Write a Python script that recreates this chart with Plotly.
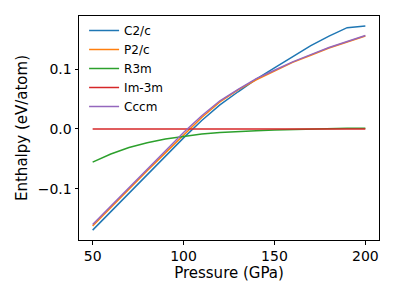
import plotly.graph_objects as go

pressure = [50, 60, 70, 80, 90, 100, 110, 120, 130, 140, 150, 160, 170, 180, 190, 200]
c2c = [-0.169, -0.138, -0.107, -0.076, -0.046, -0.015, 0.014, 0.040, 0.062, 0.083, 0.102, 0.121, 0.139, 0.155, 0.169, 0.172]
p2c = [-0.162, -0.131, -0.100, -0.070, -0.040, -0.010, 0.019, 0.045, 0.065, 0.082, 0.097, 0.111, 0.123, 0.135, 0.145, 0.155]
r3m = [-0.0555, -0.042, -0.031, -0.023, -0.017, -0.0125, -0.0085, -0.006, -0.004, -0.003, -0.002, -0.001, 0.0, 0.0005, 0.001, 0.001]
im3m = [0.0] * 16
cccm = [-0.1595, -0.129, -0.098, -0.068, -0.037, -0.006, 0.022, 0.047, 0.066, 0.084, 0.098, 0.112, 0.124, 0.136, 0.146, 0.156]

series = [
    ("C2/c", c2c, "#1f77b4"),
    ("P2/c", p2c, "#ff7f0e"),
    ("R3m", r3m, "#2ca02c"),
    ("Im-3m", im3m, "#d62728"),
    ("Cccm", cccm, "#9467bd"),
]

fig = go.Figure()
for name, vals, color in series:
    fig.add_trace(go.Scatter(x=pressure, y=vals, mode="lines", name=name,
                             line=dict(color=color, width=1.5)))

font = "DejaVu Sans"
# page body has an 8px default margin, so margins are offset by 8px
fig.update_layout(
    width=396, height=297,
    margin=dict(l=71, r=25, t=8, b=65),
    paper_bgcolor="white", plot_bgcolor="white",
    font=dict(family=font, color="black", size=14),
    showlegend=True,
    legend=dict(x=0.017, y=1.0, xanchor="left", yanchor="top",
                font=dict(size=12, family=font), bgcolor="rgba(0,0,0,0)",
                tracegroupgap=0, itemwidth=30),
)
fig.update_xaxes(range=[42.5, 207.5], tickvals=[50, 100, 150, 200], automargin=False,
                 showline=True, linecolor="black", linewidth=1, mirror=True,
                 ticks="outside", ticklen=3.5, tickcolor="black", showgrid=False,
                 zeroline=False, title=dict(text="Pressure (GPa)", standoff=4, font=dict(size=15)),
                 tickfont=dict(size=14))
fig.update_yaxes(range=[-0.1855, 0.1885], tickvals=[-0.1, 0.0, 0.1], tickformat=".1f", automargin=False,
                 showline=True, linecolor="black", linewidth=1, mirror=True,
                 ticks="outside", ticklen=3.5, tickcolor="black", showgrid=False,
                 zeroline=False, title=dict(text="Enthalpy (eV/atom)", standoff=6, font=dict(size=15)),
                 tickfont=dict(size=14))
fig.write_html("out.html")
